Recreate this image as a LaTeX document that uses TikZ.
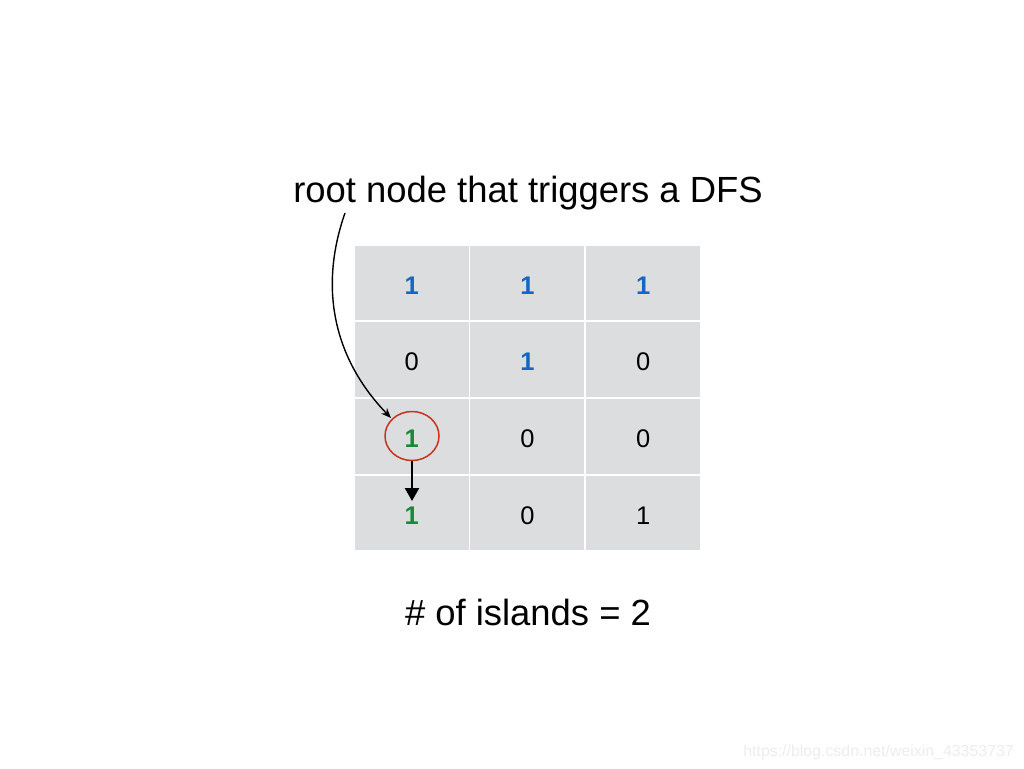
\documentclass[tikz,border=0pt]{standalone}
\usepackage{fontspec}
\setmainfont{Liberation Sans}
\usetikzlibrary{arrows.meta,shapes.geometric}
\definecolor{cellgray}{HTML}{DCDDDF}
\definecolor{oneblue}{HTML}{1466C0}
\definecolor{onegreen}{HTML}{178A3A}
\definecolor{ringred}{HTML}{C8321E}
\definecolor{wmgray}{HTML}{EDEDED}
\tikzset{
  cell/.style={rectangle, fill=cellgray, draw=white, line width=1.6pt,
    minimum width=115.6pt, minimum height=76.5pt, inner sep=0pt, outer sep=0pt},
  digit/.style={inner sep=0pt, text height=22pt, text depth=0pt,
    font=\fontsize{25.5}{28}\selectfont},
  bl/.style={digit, text=oneblue, font=\fontsize{25.5}{28}\selectfont\bfseries},
  gr/.style={digit, text=onegreen, font=\fontsize{25.5}{28}\selectfont\bfseries},
  caption/.style={font=\fontsize{36.4}{40}\selectfont, anchor=base, inner sep=0pt},
}
\begin{document}
\begin{tikzpicture}[x=1pt,y=-1pt]
\useasboundingbox (0,0) rectangle (1024,768);
\fill[white] (0,0) rectangle (1024,768);
% grid
\foreach \r/\y in {1/283, 2/359.7, 3/436.7, 4/513}{
  \foreach \c/\x in {1/411.8, 2/527.4, 3/643.1}{
    \node[cell] (c\r\c) at (\x,\y) {};
  }
}
\node[bl] (n11) at (c11) {1};
\node[bl] (n12) at (c12) {1};
\node[bl] (n13) at (c13) {1};
\node[digit] (n21) at (c21) {0};
\node[bl] (n22) at (c22) {1};
\node[digit] (n23) at (c23) {0};
\node[gr] (n31) at (c31) {1};
\node[digit] (n32) at (c32) {0};
\node[digit] (n33) at (c33) {0};
\node[gr] (n41) at (c41) {1};
\node[digit] (n42) at (c42) {0};
\node[digit] (n43) at (c43) {1};
% ring
\node[ellipse, draw=ringred, line width=1.5pt, minimum width=54pt, minimum height=49pt, inner sep=0pt] (ring) at (412,436) {};
% captions
\node[caption] (title) at (528,202.5) {root node that triggers a DFS};
\node[caption] (count) at (528,625) {\# of islands = 2};
% arrows
\coordinate (s) at (345,213);
\coordinate (e) at (391,418);
\draw[line width=1.4pt, -{Stealth[length=10pt,width=8pt]}] (s) .. controls (318,290) and (335,360) .. (e);
\coordinate (tip) at (412,501);
\draw[line width=2.4pt, -{Triangle[length=13pt,width=14pt]}] (ring.south) -- (tip);
% watermark
\node[anchor=base east, inner sep=0pt, text=wmgray, font=\fontsize{15.9}{18}\selectfont] (wm) at (1014,756) {https://blog.csdn.net/weixin\_43353737};
\end{tikzpicture}
\end{document}
